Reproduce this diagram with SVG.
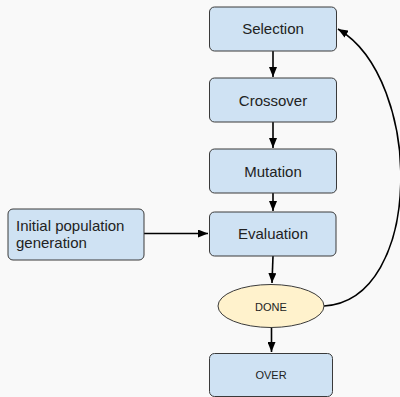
<svg xmlns="http://www.w3.org/2000/svg" width="400" height="397" viewBox="0 0 400 397">
<defs>
<style>
.box{fill:#cfe2f3;stroke:#3a3a3a;stroke-width:1}
.ell{fill:#fff2cc;stroke:#3a3a3a;stroke-width:1}
.t{font-family:"Liberation Sans",Arial,sans-serif;font-size:15px;fill:#222}
.s{font-family:"Liberation Sans",Arial,sans-serif;font-size:11px;fill:#222}
.c{fill:none;stroke:#000;stroke-width:1.6}
</style>
<marker id="ah" markerWidth="10" markerHeight="8" refX="10" refY="4" orient="auto" markerUnits="userSpaceOnUse">
<path d="M0,0 L10,4 L0,8 z" fill="#000"/>
</marker>
</defs>
<rect width="400" height="397" fill="#f9f9f9"/>
<g id="connectors">
<path class="c" d="M273,51 L273,77" marker-end="url(#ah)"/>
<path class="c" d="M273,122 L273,148" marker-end="url(#ah)"/>
<path class="c" d="M273,193 L273,211" marker-end="url(#ah)"/>
<path class="c" d="M144,233.5 L208,233.5" marker-end="url(#ah)"/>
<path class="c" d="M273,256 L272,283" marker-end="url(#ah)"/>
<path class="c" d="M271.5,328 L271.5,352" marker-end="url(#ah)"/>
<path class="c" d="M324,306 C424,300 424,80 338,29" marker-end="url(#ah)"/>
</g>
<g id="selection"><rect class="box" x="209.5" y="7" width="127" height="44" rx="5"/><text class="t" x="273" y="34.3" text-anchor="middle">Selection</text></g>
<g id="crossover"><rect class="box" x="209.5" y="78" width="127" height="44" rx="5"/><text class="t" x="273" y="105.5" text-anchor="middle">Crossover</text></g>
<g id="mutation"><rect class="box" x="209.5" y="149" width="127" height="44" rx="5"/><text class="t" x="273" y="176.5" text-anchor="middle">Mutation</text></g>
<g id="evaluation"><rect class="box" x="209.5" y="212" width="126.5" height="44" rx="5"/><text class="t" x="273" y="239.3" text-anchor="middle">Evaluation</text></g>
<g id="initial"><rect class="box" x="8" y="209" width="136" height="51" rx="5"/><text class="t" x="16" y="231">Initial population</text><text class="t" x="16" y="248.3">generation</text></g>
<g id="done"><ellipse class="ell" cx="271" cy="306" rx="53" ry="21.5"/><text class="s" x="271" y="310.5" text-anchor="middle">DONE</text></g>
<g id="over"><rect class="box" x="209.5" y="353.5" width="123" height="43" rx="5"/><text class="s" x="271" y="379" text-anchor="middle">OVER</text></g>
</svg>
